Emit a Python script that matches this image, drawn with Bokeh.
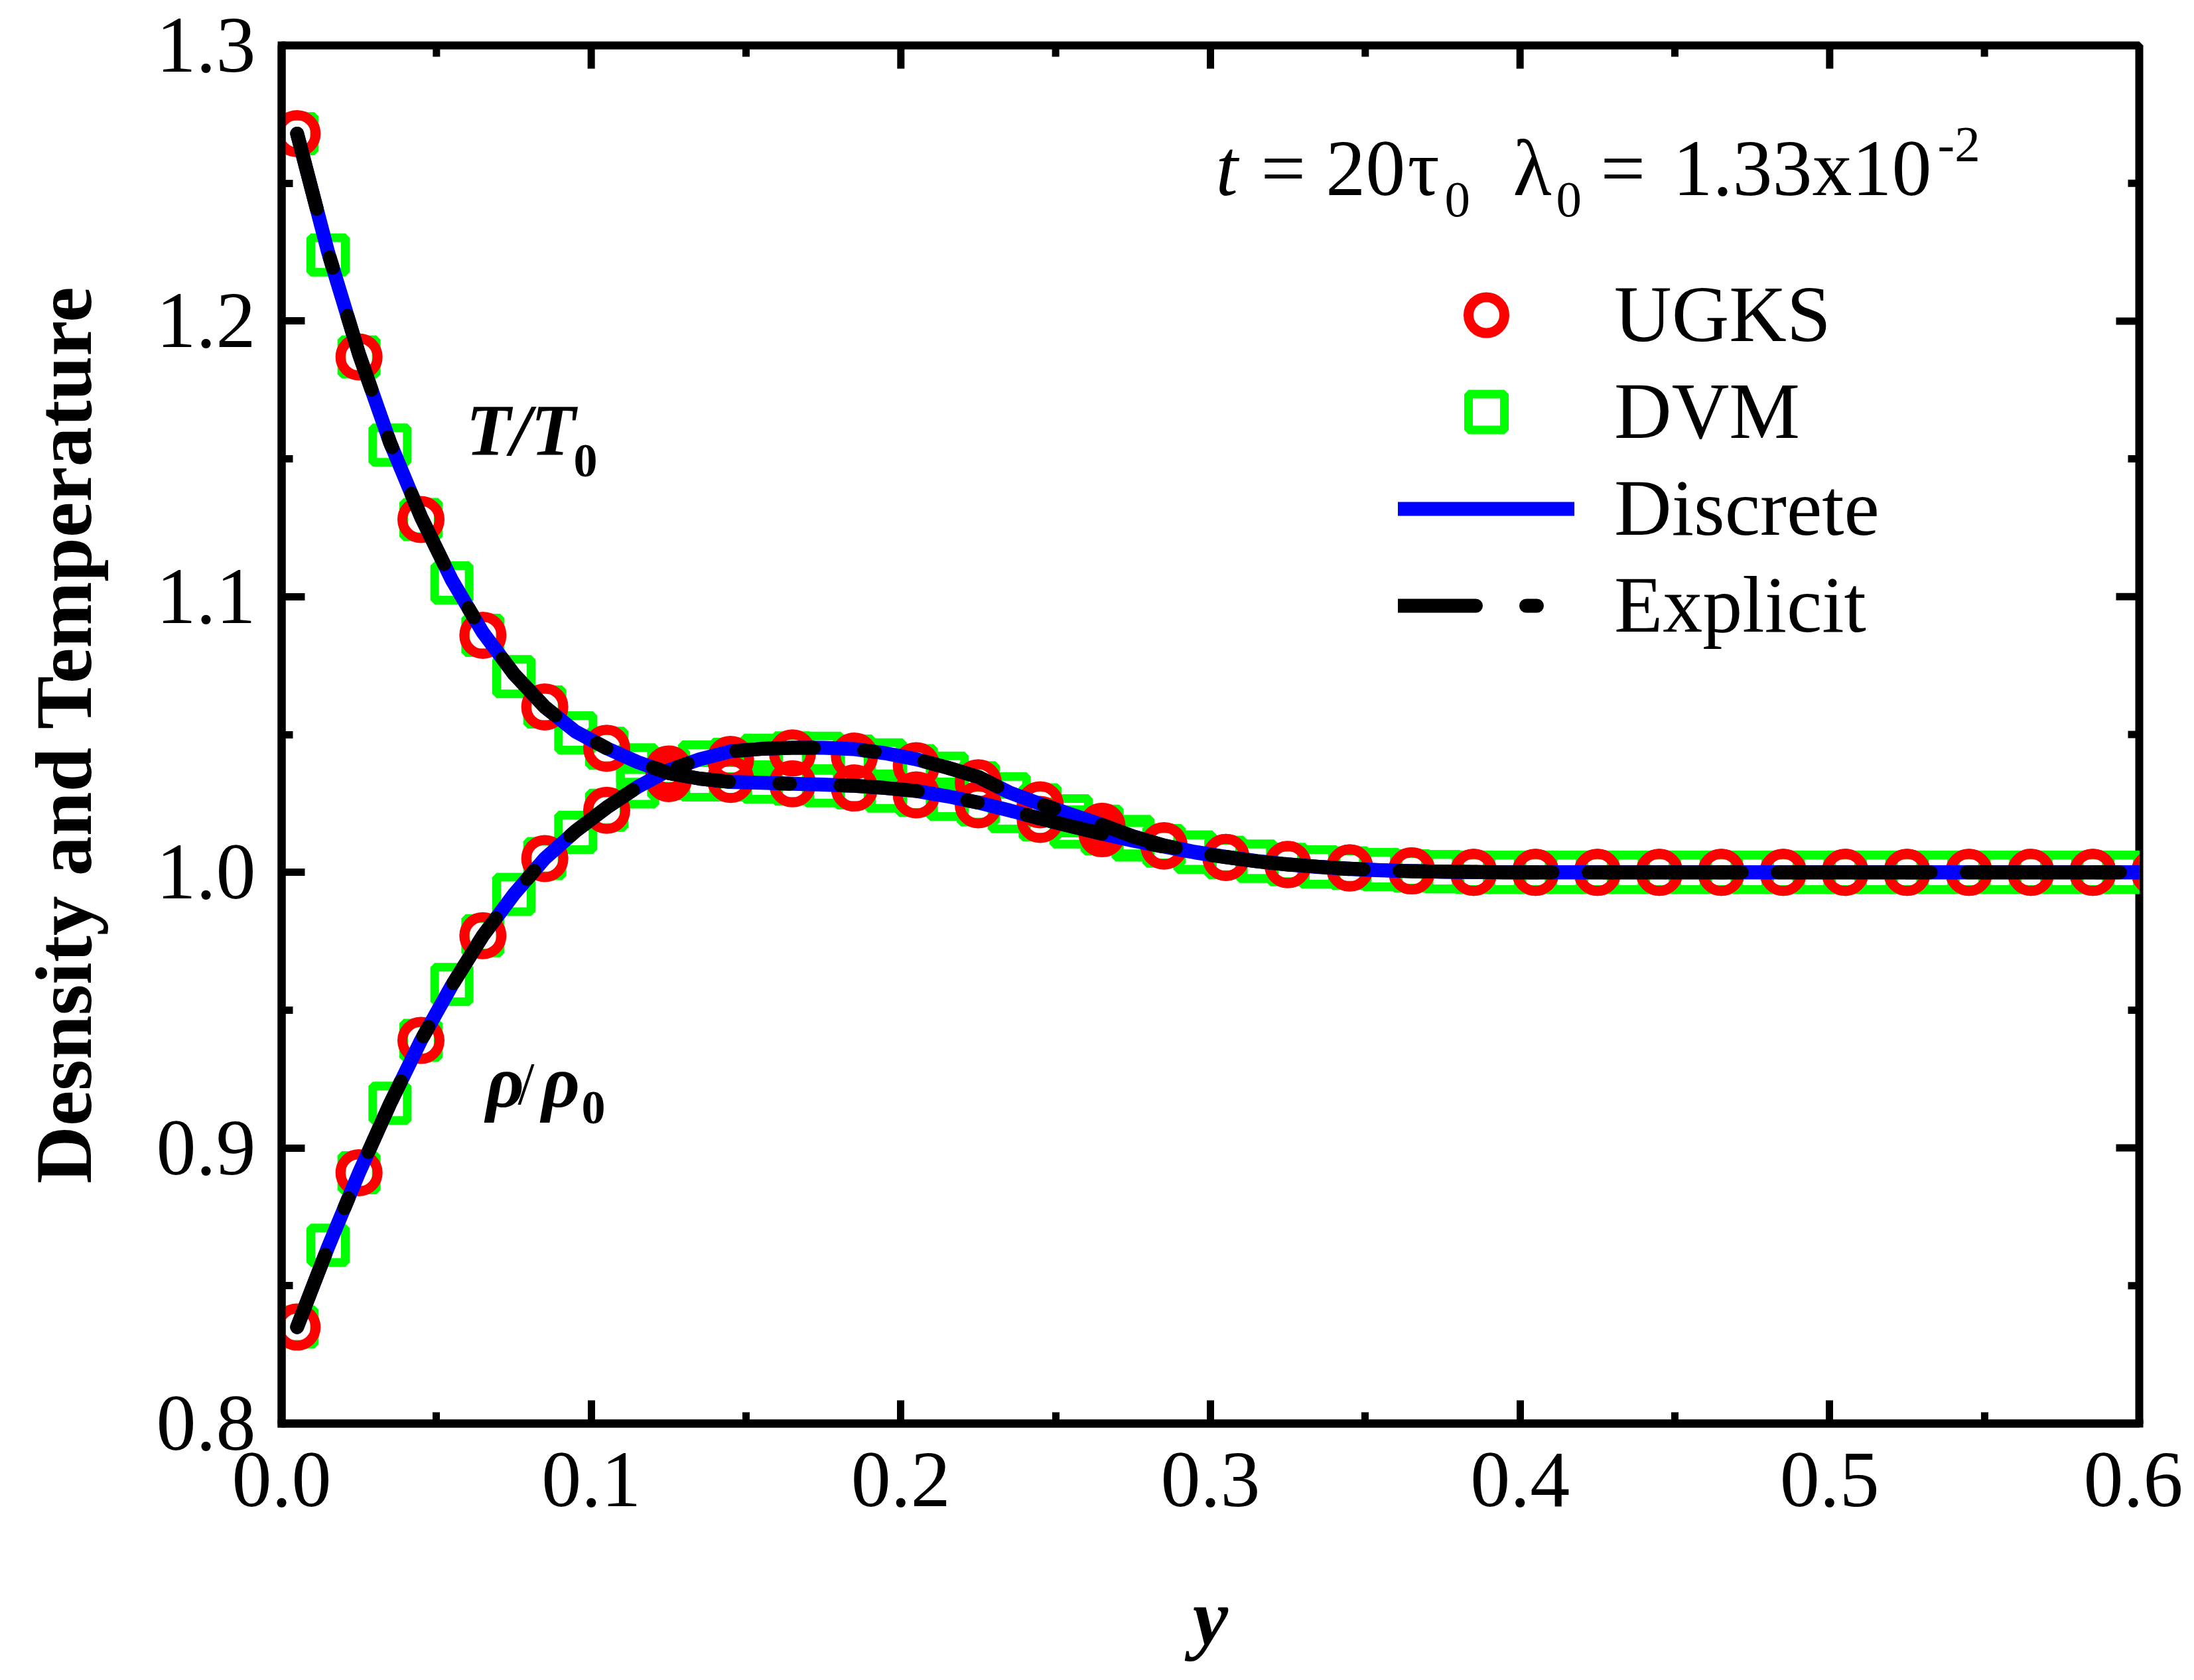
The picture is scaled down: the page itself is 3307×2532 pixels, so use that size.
from bokeh.plotting import figure
from bokeh.models import (Range1d, FixedTicker, PrintfTickFormatter, Label, Legend, LegendItem)
from bokeh.embed import file_html
from bokeh.resources import INLINE

# ---------------- data ----------------
x_ugks = [0.005, 0.025, 0.045, 0.065, 0.085, 0.105, 0.125, 0.145, 0.165, 0.185,
          0.205, 0.225, 0.245, 0.265, 0.285, 0.305, 0.325, 0.345, 0.365, 0.385,
          0.405, 0.425, 0.445, 0.465, 0.485, 0.505, 0.525, 0.545, 0.565, 0.585, 0.605]
T_ugks = [1.268, 1.187, 1.128, 1.086, 1.060, 1.045, 1.034, 1.0337, 1.0321, 1.0306,
          1.0281, 1.0245, 1.0192, 1.014, 1.0095, 1.0054, 1.0028, 1.0016, 1.0005, 1.0,
          1.0, 1.0, 1.0, 1.0, 1.0, 1.0, 1.0, 1.0, 1.0, 1.0, 1.0]
rho_ugks = [0.835, 0.891, 0.939, 0.977, 1.005, 1.0225, 1.0375, 1.041, 1.0433, 1.0422,
            1.0387, 1.0325, 1.0245, 1.0167, 1.0097, 1.0054, 1.0028, 1.0016, 1.0005, 1.0,
            1.0, 1.0, 1.0, 1.0, 1.0, 1.0, 1.0, 1.0, 1.0, 1.0, 1.0]

x_dvm = [0.005, 0.015, 0.025, 0.035, 0.045, 0.055, 0.065, 0.075, 0.085, 0.095,
         0.105, 0.115, 0.125, 0.135, 0.145, 0.155, 0.165, 0.175, 0.185, 0.195,
         0.205, 0.215, 0.225, 0.235, 0.245, 0.255, 0.265, 0.275, 0.285, 0.295,
         0.305, 0.315, 0.325, 0.335, 0.345, 0.355, 0.365, 0.375, 0.385, 0.395,
         0.405, 0.415, 0.425, 0.435, 0.445, 0.455, 0.465, 0.475, 0.485, 0.495,
         0.505, 0.515, 0.525, 0.535, 0.545, 0.555, 0.565, 0.575, 0.585, 0.595, 0.605]
T_dvm = [1.268, 1.224, 1.187, 1.155, 1.128, 1.105, 1.086, 1.071, 1.060, 1.0506,
         1.045, 1.039, 1.034, 1.0335, 1.0335, 1.0328, 1.032, 1.0314, 1.0306, 1.0295,
         1.028, 1.0265, 1.0245, 1.022, 1.019, 1.0165, 1.014, 1.0117, 1.0095, 1.0073,
         1.0054, 1.004, 1.0028, 1.002, 1.0015, 1.001, 1.0005, 1.0002] + [1.0] * 23
rho_dvm = [0.835, 0.8647, 0.891, 0.9162, 0.939, 0.9593, 0.977, 0.992, 1.005, 1.0145,
           1.0225, 1.031, 1.0375, 1.040, 1.041, 1.0425, 1.0433, 1.0432, 1.0422, 1.0408,
           1.0387, 1.036, 1.0325, 1.0285, 1.0245, 1.0205, 1.0167, 1.013, 1.0097, 1.0074,
           1.0054, 1.004, 1.0028, 1.002, 1.0016, 1.001, 1.0005, 1.0002] + [1.0] * 23

x_line = [0.005, 0.015, 0.025, 0.035, 0.045, 0.055, 0.065, 0.075, 0.085, 0.095,
          0.105, 0.115, 0.125, 0.135, 0.145, 0.155, 0.165, 0.175, 0.185, 0.195,
          0.205, 0.215, 0.225, 0.235, 0.245, 0.255, 0.265, 0.275, 0.285, 0.295,
          0.305, 0.315, 0.325, 0.335, 0.345, 0.355, 0.365, 0.375, 0.385, 0.395,
          0.405, 0.415, 0.425, 0.435, 0.445, 0.455, 0.465, 0.475, 0.485, 0.495,
          0.505, 0.515, 0.525, 0.535, 0.545, 0.555, 0.565, 0.575, 0.585, 0.595, 0.6]
T_line = [1.268, 1.225, 1.188, 1.156, 1.129, 1.106, 1.087, 1.072, 1.060, 1.051,
          1.045, 1.040, 1.036, 1.034, 1.0328, 1.0325, 1.0321, 1.0318, 1.0314, 1.0306,
          1.0295, 1.0276, 1.0253, 1.0225, 1.0195, 1.0167, 1.0140, 1.0115, 1.0093, 1.0072,
          1.0055, 1.0040, 1.0028, 1.0019, 1.0012, 1.0007, 1.0004, 1.0002, 1.0001] + [1.0] * 22
rho_line = [0.835, 0.864, 0.891, 0.916, 0.939, 0.959, 0.977, 0.992, 1.005, 1.015,
            1.0235, 1.031, 1.037, 1.041, 1.0439, 1.0448, 1.0452, 1.0452, 1.0447, 1.0432,
            1.0410, 1.0380, 1.0346, 1.0290, 1.0248, 1.0210, 1.0172, 1.0130, 1.0097, 1.0074,
            1.0056, 1.0041, 1.0029, 1.0020, 1.0013, 1.0008, 1.0004, 1.0002, 1.0001] + [1.0] * 22

x_major = [0.0, 0.1, 0.2, 0.3, 0.4, 0.5, 0.6]
x_minor = [0.05, 0.15, 0.25, 0.35, 0.45, 0.55]
y_major = [0.8, 0.9, 1.0, 1.1, 1.2, 1.3]
y_minor = [0.85, 0.95, 1.05, 1.15, 1.25]

FONT = "Liberation Serif"
X0, X1 = 0.0, 0.6
Y0, Y1 = 0.8, 1.3

# ---------------- figure ----------------
p = figure(width=3290, height=2516,
           x_range=Range1d(X0, X1), y_range=Range1d(Y0, Y1),
           output_backend="svg", toolbar_location=None,
           min_border_left=424, min_border_right=66,
           min_border_top=68, min_border_bottom=371)
p.outline_line_color = "black"
p.outline_line_width = 12
p.xgrid.visible = False
p.ygrid.visible = False
p.background_fill_color = "white"
p.border_fill_color = "white"

MAJ_LEN, MIN_LEN, TICK_W = 35, 17, 11


def style_axis(ax, major, minor):
    ax.ticker = FixedTicker(ticks=major, minor_ticks=minor)
    ax.formatter = PrintfTickFormatter(format="%.1f")
    ax.axis_line_width = 12
    ax.axis_line_color = "black"
    ax.axis_line_cap = "square"
    ax.major_tick_in = MAJ_LEN
    ax.major_tick_out = 0
    ax.minor_tick_in = MIN_LEN
    ax.minor_tick_out = 0
    ax.major_tick_line_width = TICK_W
    ax.minor_tick_line_width = TICK_W
    ax.major_tick_line_color = "black"
    ax.minor_tick_line_color = "black"
    ax.major_label_text_font = FONT
    ax.major_label_text_color = "black"
    ax.major_label_text_font_size = "120px"
    ax.axis_label_text_font = FONT
    ax.axis_label_text_color = "black"
    ax.axis_label_text_font_size = "120px"


xa = p.xaxis[0]
ya = p.yaxis[0]
style_axis(xa, x_major, x_minor)
style_axis(ya, y_major, y_minor)
xa.major_label_standoff = 45
ya.major_label_standoff = 39

xa.axis_label = "y"
xa.axis_label_text_font_style = "bold italic"
xa.axis_label_standoff = 98

ya.axis_label = "Desnsity and Temperature"
ya.axis_label_text_font_style = "bold"
ya.axis_label_standoff = 70

# mirrored inward ticks on the top and right sides of the frame
XS = 2800.0 / (X1 - X0)   # px per data unit (frame width / range)
YS = 2077.0 / (Y1 - Y0)
for ticks, ln in ((x_major, MAJ_LEN), (x_minor, MIN_LEN)):
    p.segment(x0=ticks, y0=[Y1] * len(ticks), x1=ticks, y1=[Y1 - ln / YS] * len(ticks),
              line_color="black", line_width=TICK_W)
for ticks, ln in ((y_major, MAJ_LEN), (y_minor, MIN_LEN)):
    p.segment(x0=[X1] * len(ticks), y0=ticks, x1=[X1 - ln / XS] * len(ticks), y1=ticks,
              line_color="black", line_width=TICK_W)

# ---------------- series ----------------
GREEN = "#00FF00"
RED = "#FF0000"
BLUE = "#0000FF"

r_dvm1 = p.scatter(x_dvm, T_dvm, marker="square", size=52, fill_color=None,
                   line_color=GREEN, line_width=13)
r_dvm2 = p.scatter(x_dvm, rho_dvm, marker="square", size=52, fill_color=None,
                   line_color=GREEN, line_width=13)
r_u1 = p.scatter(x_ugks, T_ugks, marker="circle", size=56, fill_color=None,
                 line_color=RED, line_width=15)
r_u2 = p.scatter(x_ugks, rho_ugks, marker="circle", size=56, fill_color=None,
                 line_color=RED, line_width=15)
r_d1 = p.line(x_line, T_line, line_color=BLUE, line_width=21,
              line_cap="round", line_join="round")
r_d2 = p.line(x_line, rho_line, line_color=BLUE, line_width=21,
              line_cap="round", line_join="round")
r_e1 = p.line(x_line, T_line, line_color="black", line_width=21,
              line_dash="117 76 16 76", line_cap="round", line_join="round")
r_e2 = p.line(x_line, rho_line, line_color="black", line_width=21,
              line_dash="117 76 16 76", line_cap="round", line_join="round")

legend = Legend(items=[
    LegendItem(label="UGKS", renderers=[r_u1]),
    LegendItem(label="DVM", renderers=[r_dvm1]),
    LegendItem(label="Discrete", renderers=[r_d1]),
    LegendItem(label="Explicit", renderers=[r_e1]),
], location=(1683, 1164), orientation="vertical",
    glyph_width=266, glyph_height=135, label_standoff=60, spacing=8,
    padding=0, margin=0, label_text_font=FONT, label_text_font_size="120px",
    label_text_color="black", border_line_color=None, background_fill_alpha=0)
p.add_layout(legend)

# ---------------- text annotations (screen px of the page -> data) ----------------
FX0, FY0 = 430.0, 76.5


def dx(px):
    return X0 + (px - FX0) / XS


def dy(py):
    return Y1 - (py - FY0) / YS


def add_text(px, baseline, text, size, style="normal"):
    # the label is anchored at the middle of its text box; shift so the
    # baseline lands on the wanted screen row
    mid = baseline - 0.3375 * size
    p.add_layout(Label(x=dx(px), y=dy(mid), text=text, text_font=FONT,
                       text_font_style=style, text_font_size=f"{size}px",
                       text_color="black", text_align="left",
                       text_baseline="middle"))


# t = 20 tau_0  lambda_0 = 1.33x10^-2
add_text(1838, 302, "t", 120, "italic")
add_text(1906, 302, "= 20", 120)
add_text(2127, 302, "τ", 120)
add_text(2183, 335, "0", 77)
add_text(2286, 302, "λ", 120)
add_text(2351, 335, "0", 77)
add_text(2418, 302, "=", 120)
add_text(2527, 302, "1.33x10", 120)
add_text(2926, 252, "-2", 77)

# T/T0
add_text(708, 694, "T/T", 110, "bold italic")
add_text(870, 727, "0", 72, "bold")

# rho/rho0
add_text(738, 1676, "ρ", 112, "bold italic")
add_text(786, 1672, "/", 90)
add_text(822, 1676, "ρ", 112, "bold italic")
add_text(882, 1702, "0", 72, "bold")

open("out.html", "w").write(file_html(p, INLINE))
